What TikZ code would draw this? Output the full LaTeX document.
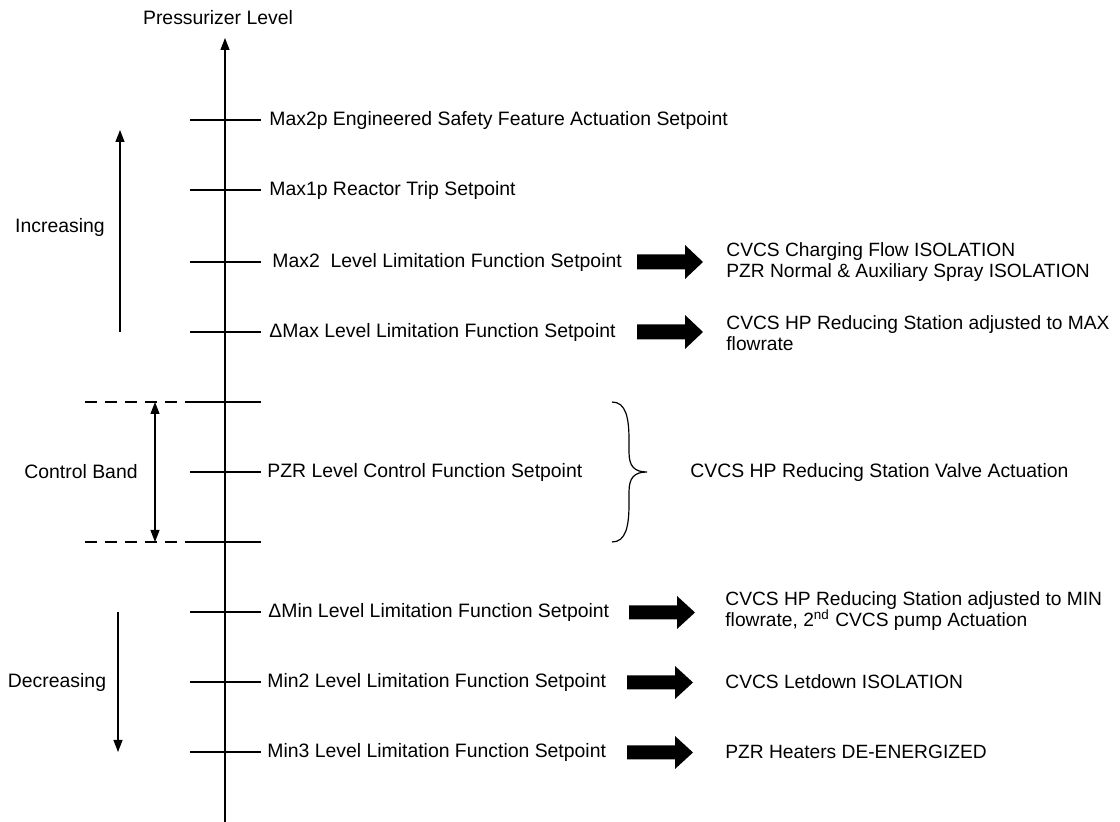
\documentclass[tikz,border=0pt]{standalone}
\usepackage{fontspec}
\setmainfont{Liberation Sans}
\usetikzlibrary{arrows.meta}
\begin{document}
\begin{tikzpicture}[x=0.5pt,y=-0.5pt,
  lbl/.style={anchor=west,inner sep=0pt,font=\fontsize{9.7}{10.8}\selectfont,align=left},
  rlbl/.style={anchor=west,inner sep=0pt,font=\fontsize{9.6}{10.8}\selectfont,align=left},
  ctr/.style={inner sep=0pt,font=\fontsize{9.7}{10.8}\selectfont},
  thin line/.style={line width=0.6pt},
  tip/.style={-{Triangle[length=6pt,width=4.5pt]}},
  dtip/.style={{Triangle[length=6pt,width=4.5pt]}-{Triangle[length=6pt,width=4.5pt]}},
  dashline/.style={line width=0.6pt,dash pattern=on 6pt off 4pt}]
\useasboundingbox (0,0) rectangle (1120,822);
% axis
\coordinate (axb) at (225,822);
\coordinate (axt) at (225,38);
\draw[thin line,tip] (axb) -- (axt);
\node[ctr] (title) at (218,18) {Pressurizer Level};
% ticks
\foreach \n/\y in {t1/120,t2/190,t3/262,t4/332,t5/402,t6/472,t7/542,t8/612,t9/682,t10/752}{
  \coordinate (\n l) at (190,\y);
  \coordinate (\n r) at (261,\y);
  \draw[thin line] (\n l) -- (\n r);
}
% labels
\node[lbl] (l1) at (269,120) {Max2p Engineered Safety Feature Actuation Setpoint};
\node[lbl] (l2) at (269,190) {Max1p Reactor Trip Setpoint};
\node[lbl] (l3) at (272,262) {Max2\ \ Level Limitation Function Setpoint};
\node[lbl] (l4) at (269,332) {ΔMax Level Limitation Function Setpoint};
\node[lbl] (l6) at (267,472) {PZR Level Control Function Setpoint};
\node[lbl] (l8) at (268,612) {ΔMin Level Limitation Function Setpoint};
\node[lbl] (l9) at (267,682) {Min2 Level Limitation Function Setpoint};
\node[lbl] (l10) at (267,752) {Min3 Level Limitation Function Setpoint};
% big arrows
\fill (637,254.5) -- (685,254.5) -- (685,245) -- (703,262) -- (685,279) -- (685,269.5) -- (637,269.5) -- cycle;
\fill (637,324.5) -- (685,324.5) -- (685,315) -- (703,332) -- (685,349) -- (685,339.5) -- (637,339.5) -- cycle;
\fill (629,605.5) -- (677,605.5) -- (677,596) -- (695,612.5) -- (677,629) -- (677,619.5) -- (629,619.5) -- cycle;
\fill (627,675.5) -- (675,675.5) -- (675,666) -- (693,682.5) -- (675,699) -- (675,689.5) -- (627,689.5) -- cycle;
\fill (627,745.5) -- (675,745.5) -- (675,736) -- (693,752.5) -- (675,769) -- (675,759.5) -- (627,759.5) -- cycle;
% right texts
\node[rlbl] (r3) at (726,262) {CVCS Charging Flow ISOLATION\\PZR Normal \& Auxiliary Spray ISOLATION};
\node[rlbl] (r4) at (726,333) {CVCS HP Reducing Station adjusted to MAX\\flowrate};
\node[lbl] (r6) at (690,472) {CVCS HP Reducing Station Valve Actuation};
\node[rlbl] (r8) at (725,611) {CVCS HP Reducing Station adjusted to MIN\\flowrate, 2\textsuperscript{nd} CVCS pump Actuation};
\node[rlbl] (r9) at (725,682) {CVCS Letdown ISOLATION};
\node[rlbl] (r10) at (725,752) {PZR Heaters DE-ENERGIZED};
% brace
\coordinate (bt) at (612,402);
\coordinate (bm) at (647,472);
\coordinate (bb) at (612,542);
\draw[thin line] (bt) .. controls (626,402) and (629,418) .. (629,440) -- (629,452)
  .. controls (629,466) and (634,472) .. (bm)
  .. controls (634,472) and (629,478) .. (629,492) -- (629,504)
  .. controls (629,526) and (626,542) .. (bb);
% control band
\coordinate (dt1) at (85,402); \coordinate (dt2) at (195,402);
\coordinate (db1) at (85,542); \coordinate (db2) at (195,542);
\draw[dashline] (dt1) -- (dt2);
\draw[dashline] (db1) -- (db2);
\coordinate (cbt) at (155,402); \coordinate (cbb) at (155,542);
\draw[thin line,dtip] (cbt) -- (cbb);
\node[ctr] (cb) at (81,472) {Control Band};
% increasing / decreasing
\coordinate (ib) at (120,332); \coordinate (it) at (120,130);
\draw[thin line,tip] (ib) -- (it);
\node[ctr] (inc) at (60,227) {Increasing};
\coordinate (dtop) at (118,612); \coordinate (dbot) at (118,752);
\draw[thin line,tip] (dtop) -- (dbot);
\node[ctr] (dec) at (57,682) {Decreasing};
\end{tikzpicture}
\end{document}
